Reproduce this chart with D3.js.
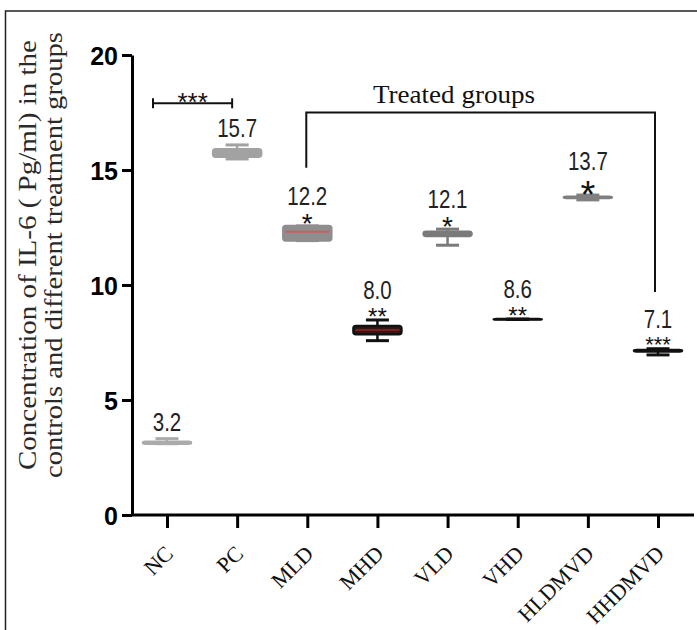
<!DOCTYPE html>
<html><head><meta charset="utf-8">
<script src="https://cdn.jsdelivr.net/npm/d3@7"></script>
<style>body{margin:0;background:#fff}</style>
</head><body>
<svg id="c" width="697" height="630"></svg>
<script>
// ---- data ----
const categories  = ["NC","PC","MLD","MHD","VLD","VHD","HLDMVD","HHDMVD"];
const whiskerLow  = [3.10, 15.48, 11.93, 7.58, 11.73, 8.50, 13.70, 6.96];
const boxLow      = [3.10, 15.58, 11.93, 7.86, 12.13, 8.50, 13.78, 7.11];
const medians     = [3.14, 15.75, 12.32, 8.04, 12.22, 8.51, 13.81, 7.14];
const boxHigh     = [3.18, 15.90, 12.57, 8.22, 12.32, 8.52, 13.84, 7.17];
const whiskerHigh = [3.32, 16.09, 12.57, 8.48, 12.43, 8.52, 13.91, 7.23];
const meanLabels  = ["3.2","15.7","12.2","8.0","12.1","8.6","13.7","7.1"];
const significance= ["","","*","**","*","**","*","***"];
const yTicks      = [0,5,10,15,20];
const controlBracket = {from:"NC", to:"PC", level:17.9, label:"***"};
const treatedBracket = {from:"MLD", to:"HHDMVD", level:17.5, leftFoot:15.1, rightFoot:9.7, label:"Treated groups"};
const yTitle = ["Concentration of IL-6 ( Pg/ml) in the", "controls and different treatment groups"];

// ---- styles ----
const boxStroke  = ["#ababab","#a2a2a2","#8e8e8e","#111111","#7a7a7a","#111111","#808080","#111111"];
const boxFill    = ["#ababab","#a2a2a2","#8e8e8e","#3a1414","#7a7a7a","#111111","#808080","#111111"];
const medColor   = ["#ababab","#a2a2a2","#c4625e","#7a2020","#7a7a7a","#111111","#808080","#111111"];
const starSize   = [26,26,28,24,28,24,38,22];

const svg = d3.select("#c");
const W = 697, H = 630;

// frame
svg.append("path").attr("d", `M5.5,${H+2} V11 H${W+2}`)
  .attr("fill","none").attr("stroke","#222").attr("stroke-width",1.5);

const x = d3.scalePoint().domain(categories).range([167, 658]);
const y = d3.scaleLinear().domain([0,20]).range([515, 55]);

// y axis
const ya = svg.append("g").attr("transform","translate(132,0)")
  .call(d3.axisLeft(y).tickValues(yTicks).tickSize(10).tickSizeOuter(0).tickPadding(4));
ya.select(".domain").attr("stroke","#000").attr("stroke-width",3);
ya.selectAll(".tick line").attr("stroke","#000").attr("stroke-width",3);
ya.selectAll(".tick text").attr("font-family","'Liberation Sans', Arial, sans-serif")
  .attr("font-weight","bold").attr("font-size",25).attr("fill","#000").attr("dy","0.36em");

// x axis
const xa = svg.append("g").attr("transform","translate(0,515)")
  .call(d3.axisBottom(x).tickSize(13).tickSizeOuter(0));
xa.select(".domain").remove();
xa.append("line").attr("x1",131).attr("x2",694).attr("y1",0).attr("y2",0)
  .attr("stroke","#000").attr("stroke-width",3);
xa.selectAll(".tick line").attr("stroke","#000").attr("stroke-width",3);
xa.selectAll(".tick text")
  .attr("font-family","'Liberation Serif','Times New Roman',serif").attr("font-size",22)
  .attr("fill","#111").attr("text-anchor","end")
  .attr("x",0).attr("y",0).attr("dy",0)
  .attr("transform","translate(7,40) rotate(-45)");

// y title
const tg = svg.append("g").attr("transform","translate(0,255)");
const titleLen = [430, 446];
yTitle.forEach((t,i)=>{
  tg.append("text").attr("transform",`translate(${36+i*26},0) rotate(-90)`)
    .attr("text-anchor","middle").attr("font-family","'Liberation Serif','Times New Roman',serif")
    .attr("font-size",26).attr("fill","#2a2a2a")
    .attr("textLength",titleLen[i]).attr("lengthAdjust","spacingAndGlyphs").text(t);
});

// boxes
const BW = 48, CW = 23;
categories.forEach((c,i)=>{
  const cx = x(c);
  const g = svg.append("g");
  g.append("line").attr("x1",cx).attr("x2",cx).attr("y1",y(whiskerLow[i])).attr("y2",y(whiskerHigh[i]))
    .attr("stroke",boxStroke[i]).attr("stroke-width",2.5);
  [whiskerLow[i], whiskerHigh[i]].forEach(v=>{
    g.append("line").attr("x1",cx-CW/2).attr("x2",cx+CW/2).attr("y1",y(v)).attr("y2",y(v))
      .attr("stroke",boxStroke[i]).attr("stroke-width",3);
  });
  const top = y(boxHigh[i]), bot = y(boxLow[i]);
  g.append("rect").attr("x",cx-BW/2).attr("width",BW).attr("y",top).attr("height",Math.max(bot-top,0.5))
    .attr("rx",2.5).attr("fill",boxFill[i]).attr("stroke",boxStroke[i]).attr("stroke-width",2.5);
  g.append("line").attr("x1",cx-BW/2+2).attr("x2",cx+BW/2-2).attr("y1",y(medians[i])).attr("y2",y(medians[i]))
    .attr("stroke",medColor[i]).attr("stroke-width",2);

  const yt = y(whiskerHigh[i]);
  const hasSig = significance[i] !== "";
  const fs = starSize[i];
  const numOffset = hasSig ? Math.max(21, 9 + fs*0.42) : 8;
  svg.append("text").attr("transform",`translate(${cx},${yt - numOffset}) scale(0.82,1)`)
    .attr("text-anchor","middle").attr("font-family","'Liberation Sans',Arial,sans-serif")
    .attr("font-size",25).attr("fill","#222").text(meanLabels[i]);
  if (hasSig) {
    svg.append("text").attr("x",cx).attr("y", yt - 9 + 0.573*fs)
      .attr("text-anchor","middle").attr("font-family","'Liberation Sans',Arial,sans-serif")
      .attr("font-size",fs).attr("fill","#111").text(significance[i]);
  }
});

// control bracket
{
  const x1 = x(controlBracket.from) - 14, x2 = x(controlBracket.to) - 5, yy = y(controlBracket.level);
  const g = svg.append("g").attr("stroke","#111").attr("stroke-width",2).attr("fill","none");
  g.append("line").attr("x1",x1).attr("x2",x2).attr("y1",yy).attr("y2",yy);
  g.append("line").attr("x1",x1).attr("x2",x1).attr("y1",yy-5).attr("y2",yy+5);
  g.append("line").attr("x1",x2).attr("x2",x2).attr("y1",yy-5).attr("y2",yy+5);
  svg.append("text").attr("x",(x1+x2)/2).attr("y",yy+8).attr("text-anchor","middle")
    .attr("font-family","'Liberation Sans',Arial,sans-serif").attr("font-size",26).attr("fill","#111")
    .text(controlBracket.label);
}
// treated bracket
{
  const x1 = x(treatedBracket.from) - 1, x2 = x(treatedBracket.to) - 3, yy = y(treatedBracket.level);
  svg.append("path").attr("d",`M${x1},${y(treatedBracket.leftFoot)} V${yy} H${x2} V${y(treatedBracket.rightFoot)}`)
    .attr("fill","none").attr("stroke","#111").attr("stroke-width",2);
  svg.append("text").attr("x",454).attr("y",yy-10).attr("text-anchor","middle")
    .attr("font-family","'Liberation Serif','Times New Roman',serif").attr("font-size",26).attr("fill","#111")
    .attr("textLength",162).attr("lengthAdjust","spacingAndGlyphs")
    .text(treatedBracket.label);
}
</script>
</body></html>
